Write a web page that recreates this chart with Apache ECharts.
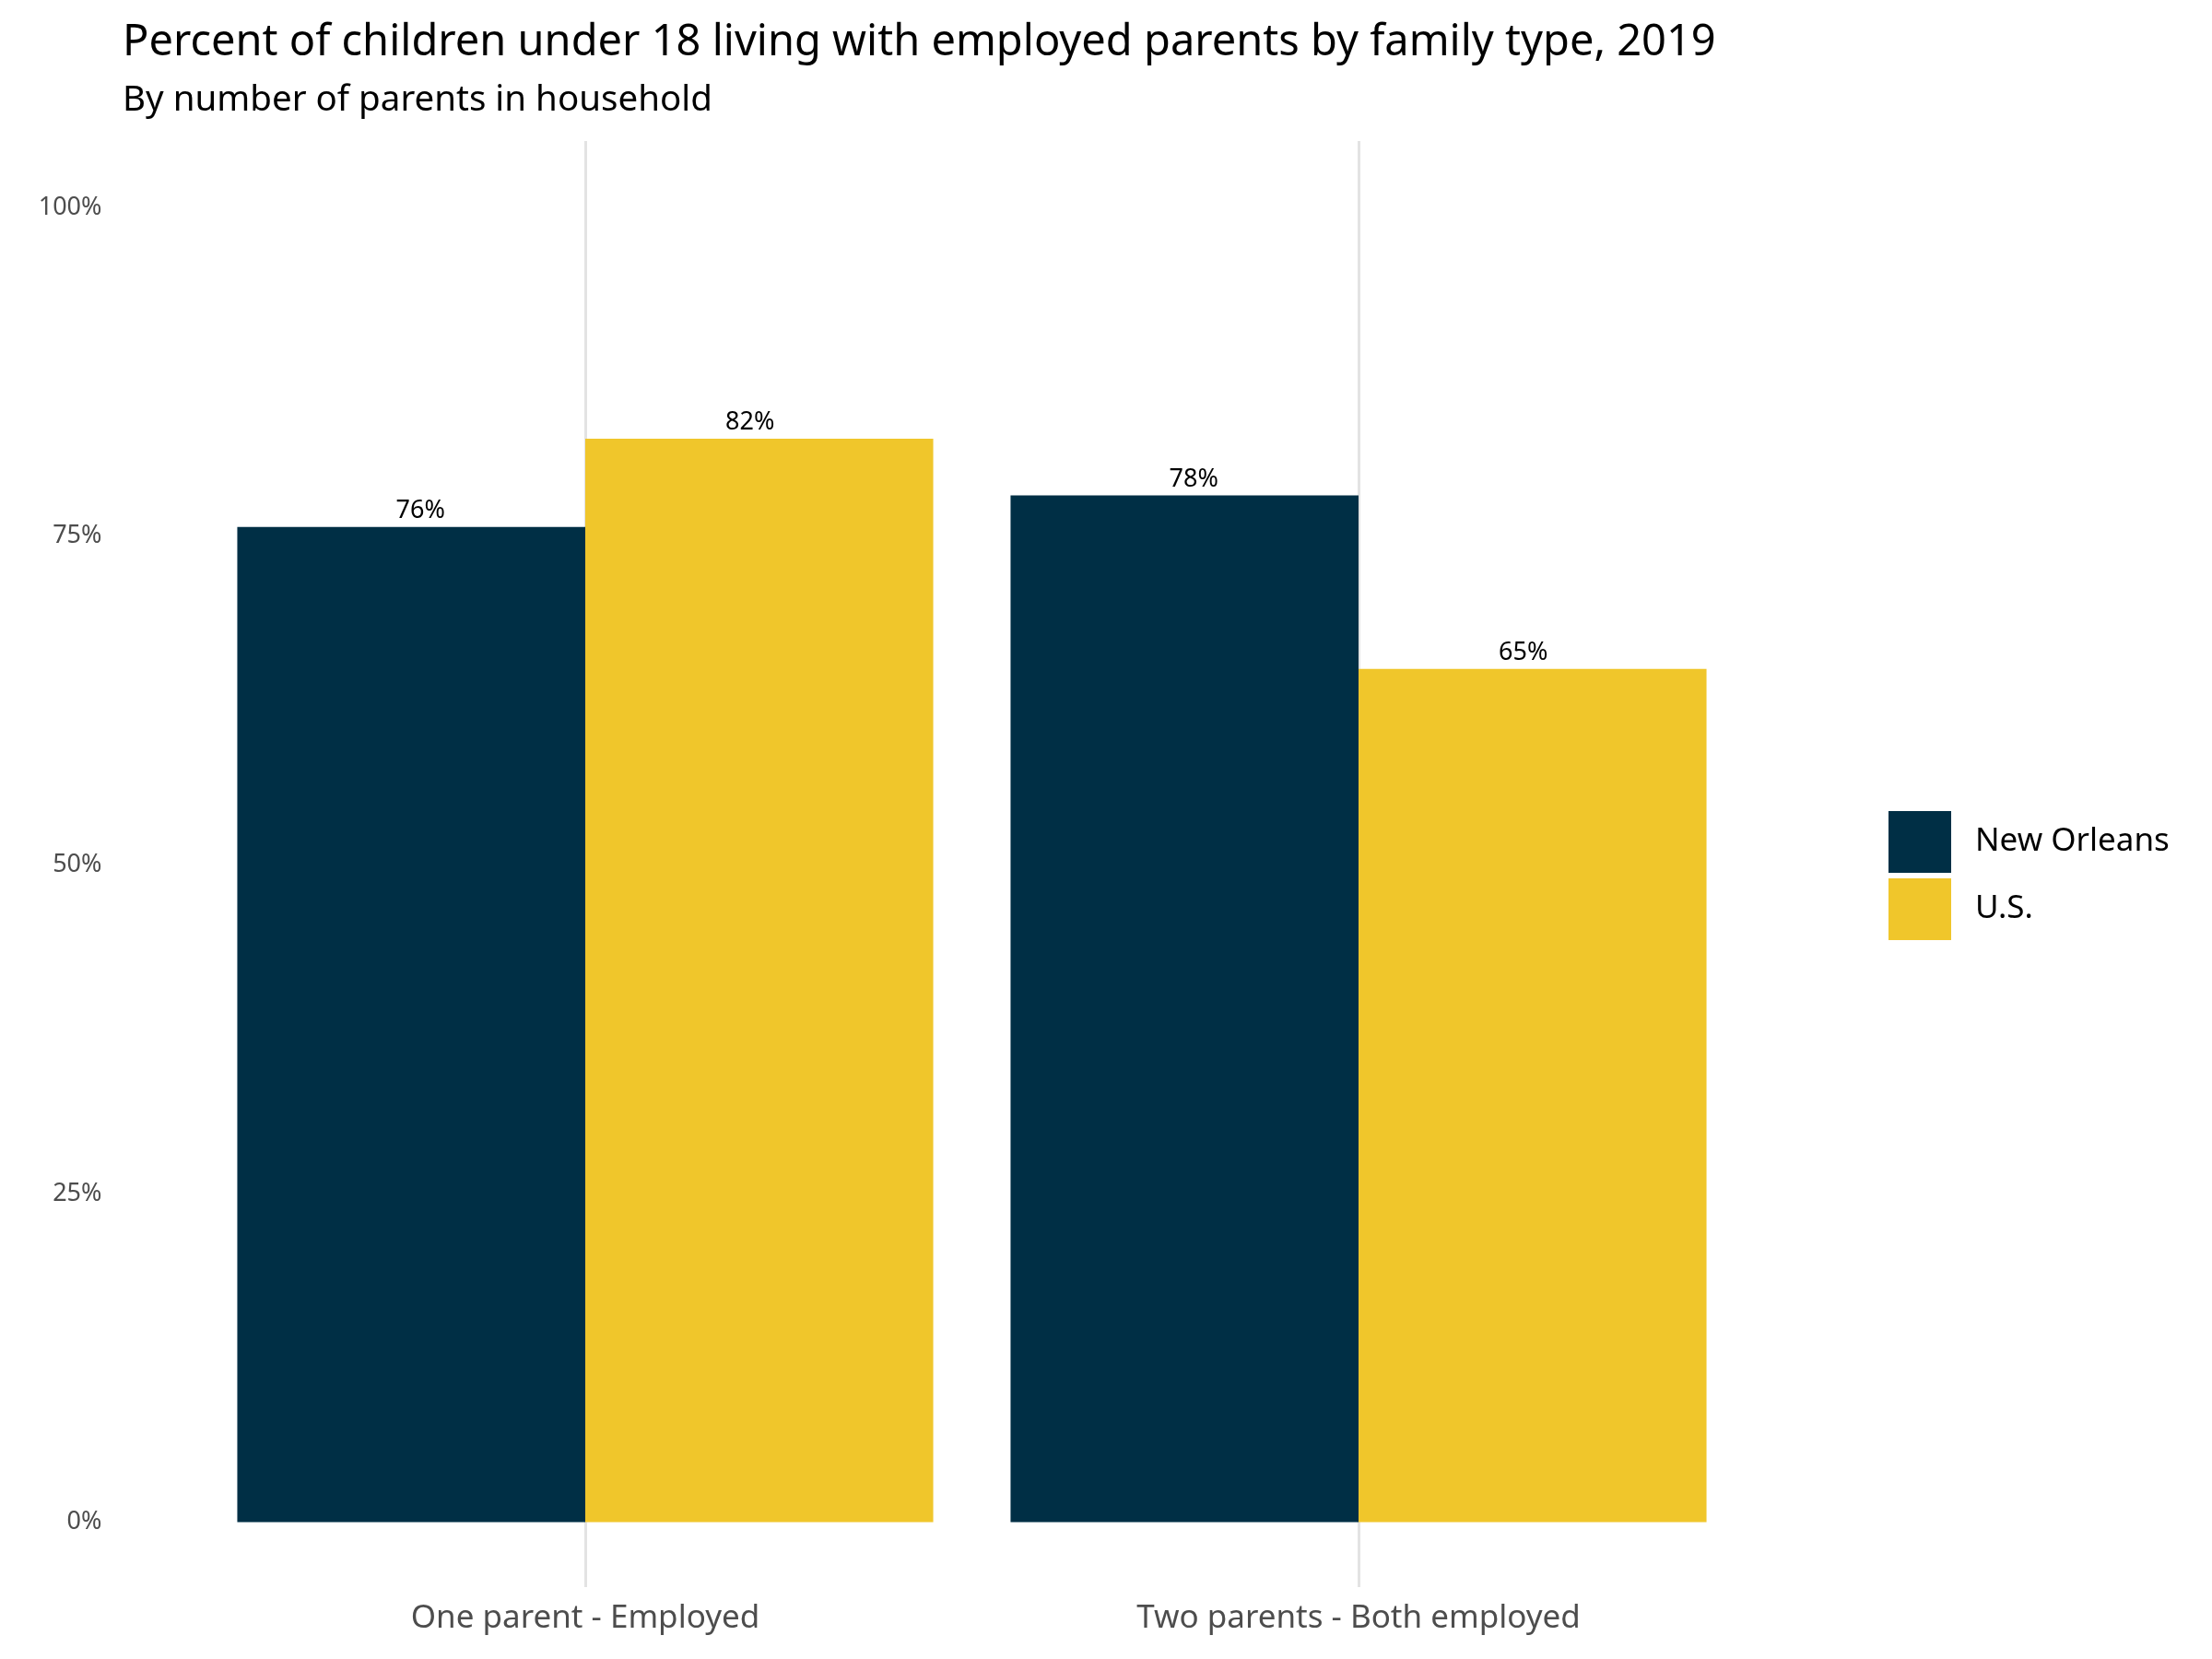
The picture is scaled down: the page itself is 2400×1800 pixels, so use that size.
<!DOCTYPE html>
<html>
<head>
<meta charset="utf-8">
<script src="https://cdn.jsdelivr.net/npm/echarts@6/dist/echarts.min.js"></script>
<style>html,body{margin:0;padding:0;background:#fff}#c{width:2400px;height:1800px}</style>
</head>
<body>
<div id="c"></div>
<script>
const categories = ['One parent - Employed', 'Two parents - Both employed'];
const seriesNames = ['New Orleans', 'U.S.'];
const newOrleans = [75.7, 78.1];
const us = [82.4, 64.9];
const yTicks = [0, 25, 50, 75, 100];
const titleText = 'Percent of children under 18 living with employed parents by family type, 2019';
const subtitleText = 'By number of parents in household';

const FONT = 'Noto Sans';
const chart = echarts.init(document.getElementById('c'));
const labelOpt = (dx) => ({
  show: true, position: 'top', distance: 4, offset: [dx, 0],
  formatter: p => Math.round(p.value) + '%',
  color: '#000', fontSize: 27, fontFamily: FONT
});
chart.setOption({
  backgroundColor: '#fff',
  animation: false,
  title: [
    {text: titleText, left: 128, top: 18, textStyle: {fontFamily: FONT, fontSize: 47, fontWeight: 'normal', color: '#000'}},
    {text: subtitleText, left: 128, top: 85, textStyle: {fontFamily: FONT, fontSize: 38.5, fontWeight: 'normal', color: '#000'}}
  ],
  legend: {
    data: seriesNames, orient: 'vertical', left: 2044, top: 875,
    icon: 'rect', itemWidth: 68, itemHeight: 67, itemGap: 6,
    textStyle: {fontFamily: FONT, fontSize: 35, color: '#000', padding: [0, 0, 0, 21]}
  },
  grid: [
    {left: 215.5, right: 506.5, top: 225, bottom: 148.5},
    {left: 635, right: 926, top: 153, bottom: 78}
  ],
  xAxis: [
    {type: 'category', data: categories, gridIndex: 0,
     axisLine: {show: false}, axisTick: {show: false}, splitLine: {show: false},
     axisLabel: {color: '#4d4d4d', fontSize: 35, fontFamily: FONT, margin: 87}},
    {type: 'category', data: categories, gridIndex: 1, boundaryGap: false,
     axisLine: {show: false}, axisTick: {show: false}, axisLabel: {show: false},
     splitLine: {show: true, lineStyle: {color: '#e3e3e3', width: 3}}}
  ],
  yAxis: [
    {type: 'value', gridIndex: 0, min: 0, max: 100, interval: 25,
     axisLine: {show: false}, axisTick: {show: false}, splitLine: {show: false},
     axisLabel: {formatter: v => yTicks.includes(v) ? v + '%' : '', color: '#4d4d4d', fontSize: 27, fontFamily: FONT, margin: 105}},
    {type: 'value', gridIndex: 1, show: false, splitLine: {show: false}}
  ],
  series: [
    {name: seriesNames[0], type: 'bar', data: newOrleans, xAxisIndex: 0, yAxisIndex: 0,
     barGap: '0%', barCategoryGap: '10%', itemStyle: {color: '#002f45'}, label: labelOpt(10)},
    {name: seriesNames[1], type: 'bar', data: us, xAxisIndex: 0, yAxisIndex: 0,
     barGap: '0%', barCategoryGap: '10%', itemStyle: {color: '#f0c62b'}, label: labelOpt(-10), z: 3}
  ]
});
</script>
</body>
</html>
